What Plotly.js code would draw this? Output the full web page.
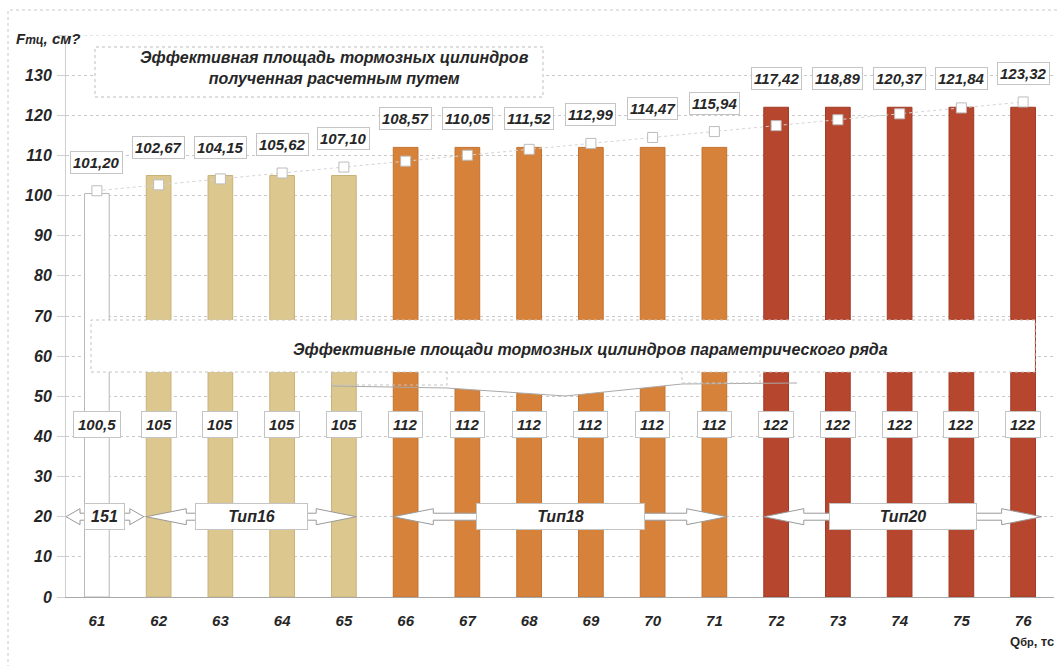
<!DOCTYPE html>
<html>
<head>
<meta charset="utf-8">
<script src="https://cdn.plot.ly/plotly-3.0.1.min.js"></script>
<style>
  html, body { margin: 0; padding: 0; background: #ffffff; }
  #chart { width: 1058px; height: 666px; }
</style>
</head>
<body>
<div id="chart"></div>
<script>
// Brake force classes, tc
const categories = ['61','62','63','64','65','66','67','68','69','70','71','72','73','74','75','76'];
// Effective cylinder areas of the parametric series, cm²
const seriesParam = [100.5,105,105,105,105,112,112,112,112,112,112,122,122,122,122,122];
// Effective cylinder areas obtained by calculation, cm²
const seriesCalc = [101.20,102.67,104.15,105.62,107.10,108.57,110.05,111.52,112.99,114.47,115.94,117.42,118.89,120.37,121.84,123.32];
// Cylinder type of each class (index into typeLabels)
const typeOfCategory = [0,1,1,1,1,2,2,2,2,2,2,3,3,3,3,3];
const typeLabels = ['151','Тип16','Тип18','Тип20'];
const yTickVals = [0,10,20,30,40,50,60,70,80,90,100,110,120,130,140];

// ---- styling ----
const FONT = 'Liberation Sans, Arial, sans-serif';
const TXT = '#262626';
const typeFill = ['#ffffff','#dcc78f','#d6823a','#b6462e'];
const typeEdge = ['#b8b8b8','#c9b27a','#c27230','#a13b25'];
const Y_MAX = 140;
const N = categories.length;
const M = {l: 66, r: 4, t: 35, b: 69};
const W = 1058, H = 666;
const PW = W - M.l - M.r, PH = H - M.t - M.b;

// helpers: pixel offsets and category index -> paper coordinates
const xIdx = i => (i + 0.5) / N;
const yVal = v => v / Y_MAX;
const xPx = p => (p - M.l) / PW;
const yPx = p => (H - M.b - p) / PH;
const dx = p => p / PW;
const dy = p => p / PH;

const fmt = (v, d) => v.toFixed(d).replace('.', ',');
const fmtParam = v => Number.isInteger(v) ? String(v) : fmt(v, 1);
const boldItalic = (size) => ({family: FONT, size: size, color: TXT, weight: 'bold', style: 'italic'});

const barTrace = {
  type: 'bar',
  x: categories,
  y: seriesParam,
  marker: {
    color: typeOfCategory.map(t => typeFill[t]),
    line: {color: typeOfCategory.map(t => typeEdge[t]), width: 1}
  },
  hoverinfo: 'x+y',
  showlegend: false
};

const calcTrace = {
  type: 'scatter',
  mode: 'lines+markers',
  x: categories,
  y: seriesCalc,
  line: {color: '#d4d4d4', width: 1, dash: 'dot'},
  marker: {symbol: 'square', size: 10, color: '#ffffff', line: {color: '#bcbcbc', width: 1}},
  cliponaxis: false,
  showlegend: false
};

const annotations = [];

// labels for the calculated values, above the higher of bar/point
seriesCalc.forEach((v, i) => {
  annotations.push({
    x: i, y: Math.max(v, seriesParam[i]), xref: 'x', yref: 'y',
    text: fmt(v, 2), showarrow: false, xanchor: 'center', yanchor: 'bottom', yshift: 17,
    font: boldItalic(15), bgcolor: '#ffffff', bordercolor: '#c4c4c4', borderwidth: 1, borderpad: 2
  });
});

// labels for the parametric series values, near the bar base
seriesParam.forEach((v, i) => {
  annotations.push({
    x: i, y: 43, xref: 'x', yref: 'y',
    text: fmtParam(v), showarrow: false, xanchor: 'center', yanchor: 'middle',
    font: boldItalic(15), bgcolor: '#ffffff', bordercolor: '#c4c4c4', borderwidth: 1, borderpad: 4
  });
});

// ---- shapes ----
const shapes = [];

// outer chart frame
shapes.push({type: 'rect', xref: 'paper', yref: 'paper',
  x0: xPx(8), x1: 1.2, y0: -0.4, y1: yPx(10),
  line: {color: '#c8c8c8', width: 1, dash: 'dot'}, fillcolor: 'rgba(0,0,0,0)', layer: 'below'});

// top gridline
shapes.push({type: 'line', xref: 'paper', yref: 'y', x0: 0, x1: 1, y0: Y_MAX, y1: Y_MAX,
  line: {color: '#c9c9c9', width: 1, dash: 'dot'}, layer: 'below'});

// box: calculated areas
shapes.push({type: 'rect', xref: 'paper', yref: 'paper',
  x0: xPx(95), x1: xPx(543), y0: yPx(97), y1: yPx(47),
  fillcolor: '#ffffff', line: {color: '#bdbdbd', width: 1, dash: 'dot'}, layer: 'above'});
annotations.push({xref: 'paper', yref: 'paper', x: xPx(334), y: yPx(68),
  xanchor: 'center', yanchor: 'middle',
  text: 'Эффективная площадь тормозных цилиндров<br>полученная расчетным путем',
  showarrow: false, align: 'center', font: boldItalic(16)});

// box: parametric series with a callout tail
shapes.push({type: 'path', xref: 'paper', yref: 'paper', layer: 'above',
  path: `M ${xPx(447)},${yPx(371)} L ${xPx(682)},${yPx(371)} L ${xPx(682)},${yPx(384)} ` +
        `L ${xPx(565)},${yPx(396)} L ${xPx(447)},${yPx(388)} Z`,
  fillcolor: '#ffffff', line: {color: '#ffffff', width: 0}});
shapes.push({type: 'path', xref: 'paper', yref: 'paper', layer: 'above',
  path: `M ${xPx(332)},${yPx(386)} L ${xPx(447)},${yPx(388)} L ${xPx(565)},${yPx(396)} ` +
        `L ${xPx(682)},${yPx(384)} L ${xPx(797)},${yPx(383)}`,
  line: {color: '#a9a9a9', width: 1}});
shapes.push({type: 'rect', xref: 'paper', yref: 'paper', layer: 'above',
  x0: xPx(332), x1: xPx(447), y0: yPx(385), y1: yPx(371),
  fillcolor: 'rgba(0,0,0,0)', line: {color: '#c4c4c4', width: 1, dash: 'dot'}});
shapes.push({type: 'rect', xref: 'paper', yref: 'paper', layer: 'above',
  x0: xPx(682), x1: xPx(760), y0: yPx(383), y1: yPx(371),
  fillcolor: 'rgba(0,0,0,0)', line: {color: '#c4c4c4', width: 1, dash: 'dot'}});
shapes.push({type: 'rect', xref: 'paper', yref: 'paper',
  x0: xPx(91), x1: xPx(1035), y0: yPx(372), y1: yPx(320),
  fillcolor: '#ffffff', line: {color: '#c4c4c4', width: 1, dash: 'dot'}, layer: 'above'});
annotations.push({xref: 'paper', yref: 'paper', x: xPx(590), y: yPx(349),
  xanchor: 'center', yanchor: 'middle',
  text: 'Эффективные площади тормозных цилиндров параметрического ряда',
  showarrow: false, font: boldItalic(16)});

// double-headed arrows marking the cylinder types, at the level of 20
const arrowSpan = [[-0.5, 0.76], [0.8, 4.2], [4.8, 10.2], [10.8, 15.3]];
const arrowHead = [14, 40, 40, 40];
const labelWidth = [35, 107, 163, 142];
const yc = yVal(20);
const hs = dy(3.5), hh = dy(8);
typeLabels.forEach((lab, k) => {
  const a = xIdx(arrowSpan[k][0]), b = xIdx(arrowSpan[k][1]);
  const hl = dx(arrowHead[k]);
  const path = `M ${a},${yc} L ${a + hl},${yc + hh} L ${a + hl},${yc + hs} L ${b - hl},${yc + hs} ` +
               `L ${b - hl},${yc + hh} L ${b},${yc} L ${b - hl},${yc - hh} L ${b - hl},${yc - hs} ` +
               `L ${a + hl},${yc - hs} L ${a + hl},${yc - hh} Z`;
  shapes.push({type: 'path', xref: 'paper', yref: 'paper', path: path, layer: 'above',
    fillcolor: '#ffffff', line: {color: '#9a9a9a', width: 1}});
  annotations.push({xref: 'x', yref: 'y', x: (arrowSpan[k][0] + arrowSpan[k][1]) / 2, y: 20,
    xanchor: 'center', yanchor: 'middle',
    text: lab, showarrow: false, width: labelWidth[k], height: 21, align: 'center',
    font: boldItalic(16), bgcolor: '#ffffff', bordercolor: '#c4c4c4', borderwidth: 1, borderpad: 2});
});

// axis captions
annotations.push({xref: 'paper', yref: 'paper', x: xPx(14), y: yPx(38), xanchor: 'left', yanchor: 'middle',
  text: 'F<span style="font-size:12px">тц</span>, см?', showarrow: false, font: boldItalic(15)});
annotations.push({xref: 'paper', yref: 'paper', x: xPx(1056), y: yPx(641), xanchor: 'right', yanchor: 'middle',
  text: 'Q<span style="font-size:11px">бр</span>, тс', showarrow: false,
  font: {family: FONT, size: 13, color: TXT, weight: 'bold'}});

const layout = {
  width: W, height: H,
  margin: M,
  paper_bgcolor: '#ffffff',
  plot_bgcolor: '#ffffff',
  bargap: 0.6,
  showlegend: false,
  xaxis: {
    type: 'category',
    range: [-0.5, N - 0.5],
    showgrid: false,
    showline: true, linecolor: '#a8a8a8', linewidth: 1,
    ticks: '', ticklabelstandoff: 10,
    tickfont: boldItalic(15),
    fixedrange: true
  },
  yaxis: {
    range: [0, Y_MAX],
    tickvals: yTickVals,
    ticktext: yTickVals.map(v => v === Y_MAX ? '' : String(v)),
    showgrid: true, gridcolor: '#c9c9c9', griddash: 'dot', gridwidth: 1,
    zeroline: false,
    showline: true, linecolor: '#cfcfcf', linewidth: 1,
    ticks: 'outside', ticklen: 8, tickcolor: '#cfcfcf',
    ticklabelstandoff: 2,
    tickfont: boldItalic(16),
    fixedrange: true
  },
  shapes: shapes,
  annotations: annotations
};

Plotly.newPlot('chart', [barTrace, calcTrace], layout, {displayModeBar: false, staticPlot: true});
</script>
</body>
</html>
